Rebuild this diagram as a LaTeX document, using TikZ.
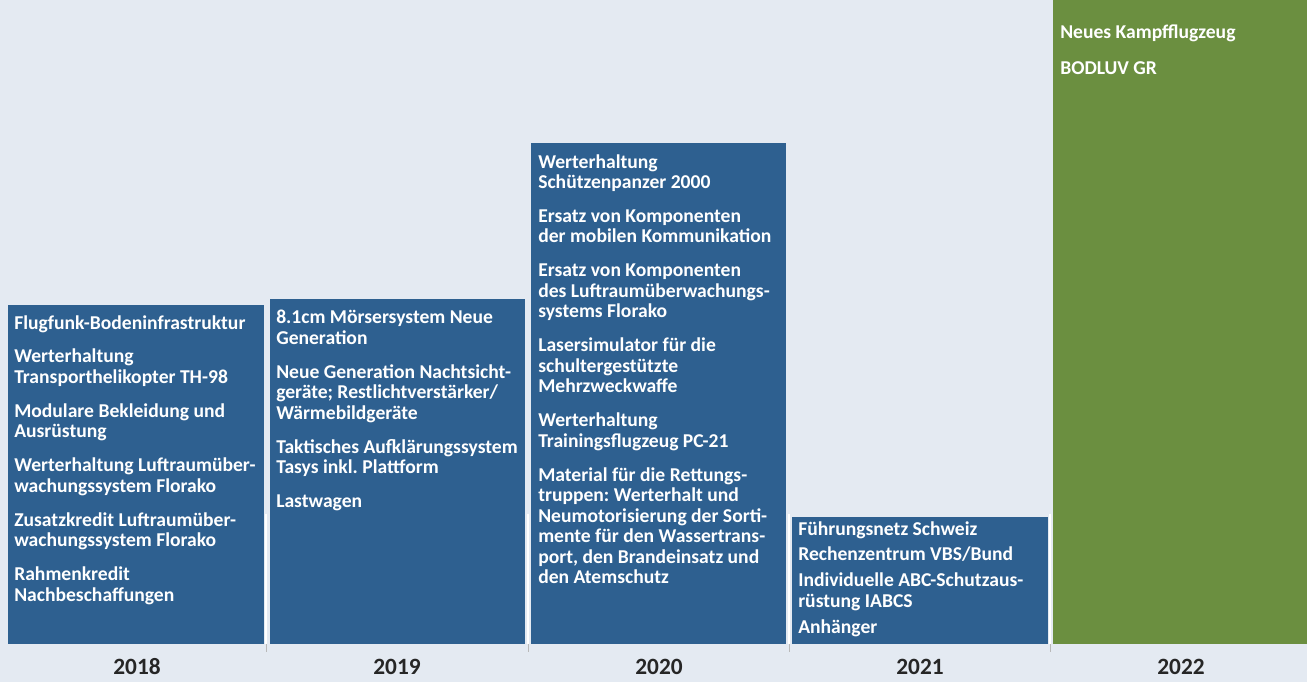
\documentclass[tikz,border=0pt]{standalone}
\usepackage{fontspec}
\setmainfont{Carlito}
\usetikzlibrary{positioning}

\definecolor{chartbg}{HTML}{E4EAF2}
\definecolor{barblue}{HTML}{2E6090}
\definecolor{bargreen}{HTML}{6B8F40}
\definecolor{yeartext}{HTML}{262626}

\begin{document}
\frenchspacing
\begin{tikzpicture} [
    x=0.75pt, y=-0.75pt,
    bar/.style={fill=barblue},
    newbar/.style={fill=bargreen},
    items/.style={anchor=north west, inner sep=0pt, align=left, text=white, font=\fontsize{14.7}{15.4}\selectfont\bfseries},
    year/.style={font=\fontsize{17.5}{20}\selectfont\bfseries, text=yeartext},
    tick/.style={draw=gray!55, line width=0.75pt}
]

% Background and frame
\fill[chartbg] (0,0) rectangle (1307,682);
\useasboundingbox (0,0) rectangle (1307,682);

% Bars
\fill[bar] (8,305) rectangle (264,644);
\fill[bar] (270,299) rectangle (525,644);
\fill[bar] (531,143) rectangle (786,644);
\fill[bar] (792,517) rectangle (1048,644);
\fill[newbar] (1053,0) rectangle (1307,644);

% Separators and ticks
\foreach \x in {266,528,789,1050} {
    \draw[white, line width=1pt] (\x,644) -- ++(0,-130);
    \draw[tick] (\x,644) -- ++(0,8);
}

% Projects per year
\node[items] (t2018) at (14,315) {Flugfunk-Bodeninfrastruktur\\[10pt]
    Werterhaltung\\ Transporthelikopter TH-98\\[10pt]
    Modulare Bekleidung und\\ Ausrüstung\\[10pt]
    Werterhaltung Luftraumüber-\\ wachungssystem Florako\\[10pt]
    Zusatzkredit Luftraumüber-\\ wachungssystem Florako\\[10pt]
    Rahmenkredit\\ Nachbeschaffungen};

\node[items] (t2019) at (276,310) {8.1cm Mörsersystem Neue\\ Generation\\[10pt]
    Neue Generation Nachtsicht-\\ geräte; Restlichtverstärker/\\ Wärmebildgeräte\\[10pt]
    Taktisches Aufklärungssystem\\ Tasys inkl. Plattform\\[10pt]
    Lastwagen};

\node[items] (t2020) at (538,154) {Werterhaltung\\ Schützenpanzer 2000\\[10pt]
    Ersatz von Komponenten\\ der mobilen Kommunikation\\[10pt]
    Ersatz von Komponenten\\ des Luftraumüberwachungs-\\ systems Florako\\[10pt]
    Lasersimulator für die\\ schultergestützte\\ Mehrzweckwaffe\\[10pt]
    Werterhaltung\\ Trainingsflugzeug PC-21\\[10pt]
    Material für die Rettungs-\\ truppen: Werterhalt und\\ Neumotorisierung der Sorti-\\ mente für den Wassertrans-\\ port, den Brandeinsatz und\\ den Atemschutz};

\node[items] (t2021) at (798,521) {Führungsnetz Schweiz\\[4pt]
    Rechenzentrum VBS/Bund\\[4pt]
    Individuelle ABC-Schutzaus-\\ rüstung IABCS\\[4pt]
    Anhänger};

\node[items] (t2022) at (1060,25) {Neues Kampfflugzeug\\[11.5pt]
    BODLUV GR};

% Year axis
\node[year] (y2018) at (137,667) {2018};
\node[year] (y2019) at (397,667) {2019};
\node[year] (y2020) at (659,667) {2020};
\node[year] (y2021) at (920,667) {2021};
\node[year] (y2022) at (1181,667) {2022};

\end{tikzpicture}
\end{document}
